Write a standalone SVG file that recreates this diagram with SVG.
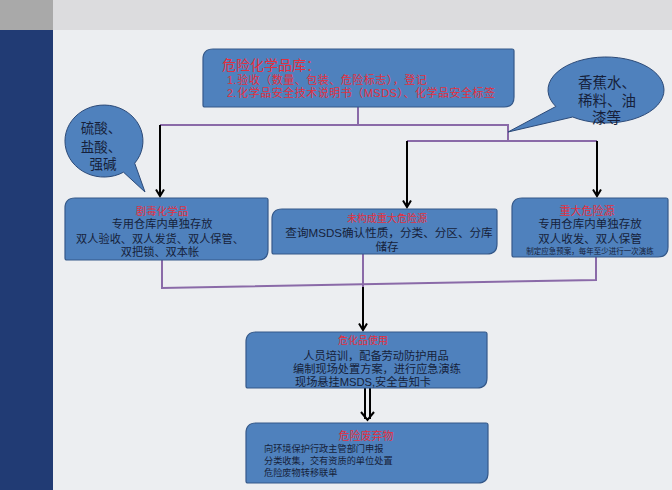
<svg xmlns="http://www.w3.org/2000/svg" width="672" height="490" viewBox="0 0 672 490">
<defs>
<style>
.box{fill:#4f81bd;stroke:#35598a;stroke-width:1.2}
.bub{fill:#4f81bd;stroke:#2c4a78;stroke-width:1}
.red{fill:#e3303f;font-family:"Liberation Sans","Noto Sans CJK SC",sans-serif}
.dk{fill:#161f3a;font-family:"Liberation Sans","Noto Sans CJK SC",sans-serif}
.pl{fill:none;stroke:#8a6aa8;stroke-width:2}
.ar{fill:none;stroke:#000;stroke-width:2}
</style>
<marker id="ah" viewBox="0 0 10 10" refX="8" refY="5" markerWidth="10" markerHeight="10" markerUnits="userSpaceOnUse" orient="auto">
<path d="M1.5,1 L8,5 L1.5,9" fill="none" stroke="#000" stroke-width="2"/>
</marker>
</defs>
<rect width="672" height="490" fill="#eceef1"/>
<rect width="672" height="30" fill="#dcdcde"/>
<rect width="53" height="30" fill="#a9a9a9"/>
<rect y="30" width="53" height="460" fill="#213b74"/>

<g id="connectors">
<path class="pl" d="M358,107 V125"/>
<path class="pl" d="M160,125 H508 V141"/>
<path class="pl" d="M407,141 H597"/>
<path class="pl" d="M162,260 V288 L596,280 V257"/>
<path class="pl" d="M363,254 V287"/>
<path class="ar" d="M160,125 V196" marker-end="url(#ah)"/>
<path class="ar" d="M407,141 V207" marker-end="url(#ah)"/>
<path class="ar" d="M597,141 V196" marker-end="url(#ah)"/>
<path class="ar" d="M363,287 V330" marker-end="url(#ah)"/>
<path class="ar" d="M365,388 V419 M370,388 V419 M361,412 L367.5,420 L374,412"/>
</g>

<g id="store">
<path class="box" d="M213,49 H512 Q514,49 514,51 V97 Q514,107 504,107 H205 Q203,107 203,105 V59 Q203,49 213,49 Z"/>
<text class="red" x="222" y="70" font-size="14">危险化学品库：</text>
<text class="red" x="227" y="84" font-size="11" letter-spacing="0.5">1.验收（数量、包装、危险标志），登记</text>
<text class="red" x="227" y="97" font-size="11" letter-spacing="0.5">2.化学品安全技术说明书（MSDS）、化学品安全标签</text>
</g>

<g id="bubble-left">
<path class="bub" d="M123.5,172.2 A39,36 0 1 1 134.7,163.2 L145,192 Z"/>
<text class="dk" font-size="13.5" text-anchor="middle"><tspan x="101" y="133">硫酸、</tspan><tspan x="101" y="152">盐酸、</tspan><tspan x="103" y="169">强碱</tspan></text>
</g>

<g id="bubble-right">
<path class="bub" d="M555.8,106.5 A58,33 0 1 1 572.7,117 L508,132 Z"/>
<text class="dk" font-size="14.5"><tspan x="578" y="88">香蕉水、</tspan><tspan x="578" y="106">稀料、油</tspan><tspan x="592" y="123">漆等</tspan></text>
</g>

<g id="toxic">
<path class="box" d="M75,198 H266 Q268,198 268,200 V250 Q268,260 258,260 H67 Q65,260 65,258 V208 Q65,198 75,198 Z"/>
<text class="red" x="162" y="215" font-size="10.5" text-anchor="middle">剧毒化学品</text>
<text class="dk" font-size="11.2" text-anchor="middle"><tspan x="162" y="228">专用仓库内单独存放</tspan><tspan x="160" y="243">双人验收、双人发货、双人保管、</tspan><tspan x="160" y="256">双把锁、双本帐</tspan></text>
</g>

<g id="nonmajor">
<path class="box" d="M282,209 H495 Q497,209 497,211 V244 Q497,254 487,254 H274 Q272,254 272,252 V219 Q272,209 282,209 Z"/>
<text class="red" x="387" y="222" font-size="10" text-anchor="middle">未构成重大危险源</text>
<text class="dk" font-size="11.6" text-anchor="middle"><tspan x="389" y="237">查询MSDS确认性质，分类、分区、分库</tspan><tspan x="387" y="251">储存</tspan></text>
</g>

<g id="major">
<path class="box" d="M522,198 H666 Q668,198 668,200 V247 Q668,257 658,257 H514 Q512,257 512,255 V208 Q512,198 522,198 Z"/>
<text class="red" x="587" y="215" font-size="11" text-anchor="middle">重大危险源</text>
<text class="dk" font-size="11.5" text-anchor="middle"><tspan x="590" y="228">专用仓库内单独存放</tspan><tspan x="590" y="243">双人收发、双人保管</tspan></text>
<text class="dk" x="590" y="254" font-size="7.5" text-anchor="middle">制定应急预案，每年至少进行一次演练</text>
</g>

<g id="use">
<path class="box" d="M256,332 H485 Q487,332 487,334 V378 Q487,388 477,388 H248 Q246,388 246,386 V342 Q246,332 256,332 Z"/>
<text class="red" x="363" y="344" font-size="10" text-anchor="middle">危化品使用</text>
<text class="dk" font-size="11.2" text-anchor="middle"><tspan x="376" y="360">人员培训，配备劳动防护用品</tspan><tspan x="377" y="373">编制现场处置方案，进行应急演练</tspan><tspan x="363" y="386">现场悬挂MSDS,安全告知卡</tspan></text>
</g>

<g id="waste">
<path class="box" d="M256,423 H486 Q488,423 488,425 V473 Q488,483 478,483 H248 Q246,483 246,481 V433 Q246,423 256,423 Z"/>
<text class="red" x="366" y="440" font-size="11" text-anchor="middle">危险废弃物</text>
<text class="dk" font-size="9.2"><tspan x="264" y="452">向环境保护行政主管部门申报</tspan><tspan x="264" y="464">分类收集，交有资质的单位处置</tspan><tspan x="264" y="476">危险废物转移联单</tspan></text>
</g>
</svg>
